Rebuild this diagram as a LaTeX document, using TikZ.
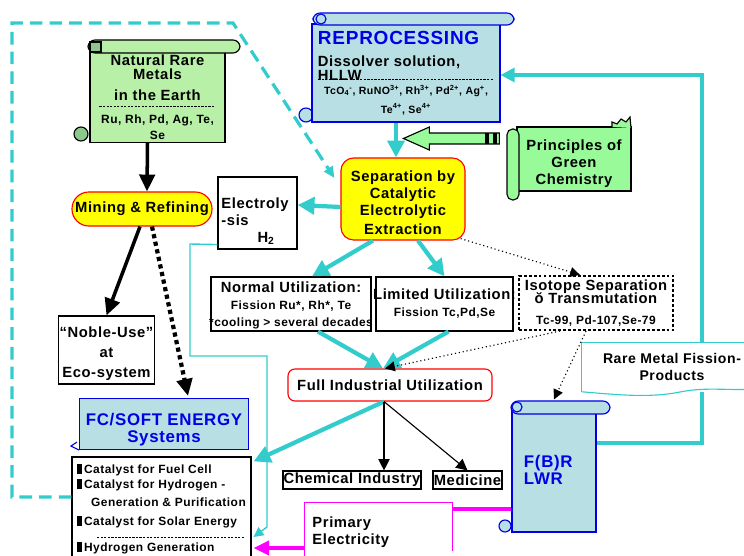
\documentclass[tikz,border=0pt]{standalone}
\usepackage{fontspec}
\setmainfont{Liberation Sans}[LetterSpace=4]
\usetikzlibrary{arrows.meta,positioning,calc,backgrounds}
\definecolor{LeafGreen}{RGB}{184,240,168}
\definecolor{MintGreen}{RGB}{152,250,152}
\definecolor{RollGreen}{RGB}{140,200,140}
\definecolor{PaleCyan}{RGB}{184,223,228}
\definecolor{FlowCyan}{RGB}{51,204,204}
\definecolor{InkBlue}{RGB}{0,0,230}
\definecolor{SignYellow}{RGB}{255,255,0}
\definecolor{AlarmRed}{RGB}{255,0,0}
\definecolor{PowerPink}{RGB}{255,0,255}
\newcommand{\sm}{\fontsize{8.5}{9.5}\selectfont}
\newcommand{\tn}{\fontsize{7.5}{8.5}\selectfont}
\newcommand{\dashrule}[1]{\makebox[#1]{\xleaders\hbox to 2.5pt{\rule[0.3ex]{1.6pt}{0.5pt}\hss}\hfill}}
\newcommand{\bulletbox}{\rule[-0.5pt]{3.5pt}{7pt}\,}
\newcommand{\lift}[1]{\rule{0pt}{#1}}
\tikzset{
  boldtext/.style={font=\bfseries\fontsize{10.5}{12}\selectfont},
  plainbox/.style={draw=black,thick,fill=white,align=center,inner sep=1pt,boldtext},
  alertbox/.style={draw=AlarmRed,thick,fill=SignYellow,rounded corners=9pt,
    align=center,inner sep=1pt,boldtext},
  scrollbody/.style={draw,thick,align=center,inner sep=2pt,boldtext},
  flow/.style={-{Triangle[length=12pt,width=12pt]},line width=3pt,FlowCyan},
  thinflow/.style={-{Triangle[length=7pt,width=7pt]},line width=1pt,FlowCyan},
  blackflow/.style={-{Triangle[length=12pt,width=11pt]},line width=2.5pt},
  dotflow/.style={-{Triangle[length=7pt,width=7pt]},dotted,thick},
  squaredots/.style={-{Triangle[length=12pt,width=11pt]},line width=3pt,
    dash pattern=on 3pt off 2.5pt},
  loopdash/.style={-{Triangle[length=8pt,width=7pt]},line width=2.3pt,FlowCyan,
    dash pattern=on 9pt off 5pt}
}

\begin{document}
\begin{tikzpicture}[x=0.025cm,y=-0.025cm]
\useasboundingbox (0,0) rectangle (744,556);

% scroll curls behind the bodies
\draw[thick,fill=RollGreen] (81,134) circle (7);
\draw[thick,draw=InkBlue,fill=PaleCyan] (306,115) circle (7);
\draw[thick,draw=InkBlue,fill=PaleCyan] (505,526) circle (6);

% nodes
\node[scrollbody,fill=LeafGreen,minimum width=3.375cm,minimum height=2.2cm] (earth) at (157.5,97)
  {Natural Rare\\[-2pt]Metals\\[2.9pt]in the Earth\\[-5.6pt]\dashrule{2.9cm}\\[-2.1pt]{\sm Ru, Rh, Pd, Ag, Te,}\\[-0.7pt]{\sm Se}};
\node[alertbox,rounded corners=12pt,minimum width=3.5cm,minimum height=0.85cm] (mining) at (142,209)
  {Mining \& Refining};
\node[plainbox,align=left,minimum width=1.975cm,minimum height=1.8cm,text width=1.8cm] (electro) at (257.5,213)
  {\lift{19pt}Electroly\\-sis\\\hspace*{0.9cm}H\textsubscript{2}};
\node[scrollbody,draw=InkBlue,fill=PaleCyan,minimum width=4.7cm,minimum height=2.45cm,align=left] (reproc) at (406,73)
  {{\color{InkBlue}\fontsize{13.5}{15}\selectfont REPROCESSING}\\[3.5pt]
   Dissolver solution,\\[-2pt]HLLW\\[-10.6pt]\dashrule{4.4cm}\\[-3.5pt]
   \makebox[4.4cm]{\tn TcO\textsubscript{4}\textsuperscript{-}, RuNO\textsuperscript{3+}, Rh\textsuperscript{3+}, Pd\textsuperscript{2+}, Ag\textsuperscript{+},}\\[1.4pt]
   \makebox[4.4cm]{\tn Te\textsuperscript{4+}, Se\textsuperscript{4+}}};
\node[alertbox,minimum width=3.1cm,minimum height=2.05cm] (sep) at (403,199)
  {\lift{13pt}Separation by\\Catalytic\\Electrolytic\\[2pt]Extraction};
\node[scrollbody,fill=MintGreen,minimum width=2.85cm,minimum height=1.6cm] (green) at (574,159)
  {\lift{14pt}Principles of\\Green\\Chemistry};
\node[plainbox,minimum width=4cm,minimum height=1.35cm] (normal) at (291,304)
  {\lift{10pt}\makebox[3.8cm]{Normal Utilization:}\\{\sm Fission Ru*, Rh*, Te}\\\makebox[3.8cm]{\sm *cooling > several decades}};
\node[plainbox,minimum width=3.425cm,minimum height=1.35cm] (limited) at (444.5,304)
  {\makebox[3.2cm]{Limited Utilization:}\\{\sm Fission Tc,Pd,Se}};
\node[plainbox,line width=1.5pt,dash pattern=on 2pt off 1.5pt,minimum width=3.85cm,minimum height=1.35cm] (isotope) at (596,303)
  {\makebox[3.6cm]{Isotope Separation}\\[-3pt]ŏ Transmutation\\[3pt]{\sm Tc-99, Pd-107,Se-79}};
\node[draw=AlarmRed,thick,rounded corners=5pt,fill=white,minimum width=5.1cm,minimum height=0.8cm,boldtext] (full) at (390,385)
  {Full Industrial Utilization};
\node[fill=white,minimum width=4.5cm,minimum height=1.225cm,align=center,
  font=\bfseries\fontsize{10}{12}\selectfont] (rare) at (672,367)
  {Rare Metal Fission-\\Products};
\node[scrollbody,draw=InkBlue,fill=PaleCyan,minimum width=2.1cm,minimum height=3.1cm,
  text width=1.5cm,align=left] (fbr) at (554,470)
  {\color{InkBlue}\fontsize{12}{14}\selectfont F(B)R\\\color{InkBlue}\fontsize{12}{14}\selectfont LWR};
\node[plainbox,inner sep=0pt,minimum width=3.45cm,minimum height=0.45cm] (chem) at (352,480) {\makebox[3.3cm]{Chemical Industry}};
\node[plainbox,inner sep=0pt,minimum width=1.725cm,minimum height=0.45cm] (med) at (467.5,480) {\makebox[1.6cm]{Medicine}};
\node[scrollbody,draw=InkBlue,fill=PaleCyan,minimum width=4.225cm,minimum height=1.275cm] (fc) at (164,424)
  {\lift{17pt}\color{InkBlue}\fontsize{12}{13}\selectfont FC/SOFT ENERGY\\\color{InkBlue}\fontsize{12}{13}\selectfont Systems};
\node[draw,thick,fill=white,minimum width=4.475cm,minimum height=2.6cm,align=left,
  inner sep=1pt,font=\bfseries\fontsize{8.5}{10}\selectfont] (catal) at (161.5,509)
  {\bulletbox Catalyst for Fuel Cell\\[0.6pt]\bulletbox Catalyst for Hydrogen -\\[2.7pt]
   \hspace*{0.35cm}Generation \& Purification\\[3.4pt]\bulletbox Catalyst for Solar Energy\\[0.6pt]
   \hspace*{0.5cm}\dashrule{3.7cm}\\[-2.2pt]\bulletbox Hydrogen Generation};
\node[plainbox,minimum width=2.325cm,minimum height=1.7cm] (noble) at (106.5,350)
  {\lift{13pt}“Noble-Use”\\[2pt]at\\[2pt]Eco-system};
\node[fill=white,minimum width=3.675cm,minimum height=1.45cm,text width=3.3cm,align=left,boldtext] (primary) at (378.5,532)
  {Primary\\Electricity};

% big feedback line, behind the fission-products label
\coordinate (loopcorner) at (702,75);
\begin{scope}[on background layer]
\draw[line width=2.2pt,FlowCyan,-{Triangle[length=10pt,width=10pt]}]
  ($(fbr.east)+(0,-27)$) -| (loopcorner) -- (loopcorner -| reproc.east);
\end{scope}

% scroll bars and outlines
\draw[thick,fill=LeafGreen,rounded corners=5pt] (88,40) rectangle (240,53);
\draw[thick,fill=RollGreen] (90,42) rectangle (101,52);
\draw[thick,draw=InkBlue,fill=PaleCyan,rounded corners=5pt] (313,13) rectangle (514,25);
\draw[thick,draw=InkBlue,fill=PaleCyan] (321,19) circle (5);
\draw[thick,fill=MintGreen,rounded corners=4pt] (507,129) rectangle (519,200);
\draw[thick,fill=MintGreen] (612,127) -- (612,122) -- (617,124) -- (621,119) -- (626,122) -- (630,117) -- (631,128);
\draw[thick,draw=InkBlue,fill=PaleCyan,rounded corners=5pt] (511,401) rectangle (610,414);
\draw[thick,draw=InkBlue,fill=PaleCyan] (517,407) circle (5);
\draw[thick,InkBlue] (fc.south west) -- ++(-8,-4) -- ++(6,-4);
\draw[thick,FlowCyan] (rare.south west) -- (rare.north west) -- (rare.north east);
\draw[thick,FlowCyan] (rare.south west) .. controls (620,395) and (650,398) .. (680,392)
  .. controls (710,386) and (730,392) .. (770,388);
\draw[thick,PowerPink] (primary.south west) -- (primary.north west) -- (primary.north east) -- ($(primary.south east)+(0,-10)$);

% big hollow arrow from the principles
\coordinate (gtail) at ($(green.west)+(-17,-21)$);
\draw[thick,fill=MintGreen] (gtail) -- ++(0,-5) -- ++(-70,0) -- ++(0,-6) -- ++(-26,11.5)
  -- ++(26,11.5) -- ++(0,-6) -- ++(70,0) -- cycle;
\fill ($(gtail)+(-14,-5)$) rectangle ++(4,11);
\fill ($(gtail)+(-6,-5)$) rectangle ++(4,11);

% connectors
\draw[loopdash] ($(catal.west)+(0,-12)$) -- (12,497) -- (12,23) -- (233,23) -- ($(sep.west)+(-6,-21)$);
\draw[blackflow] ($(earth.south)+(-10,0)$) -- ($(mining.north)+(5,0)$);
\draw[blackflow] ($(mining.south)+(-2,0)$) -- (noble.north);
\draw[squaredots] ($(mining.south)+(10,0)$) -- ($(fc.north)+(24,-2)$);
\draw[flow] ($(reproc.south)+(-10,0)$) -- ($(sep.north)+(-7,0)$);
\draw[flow] ($(sep.west)+(0,8)$) -- ($(electro.east)+(0,-8)$);
\draw[flow] ($(sep.south)+(-30,0)$) -- ($(normal.north)+(21,0)$);
\draw[flow] ($(sep.south)+(15,0)$) -- (limited.north);
\draw[flow] ($(normal.south)+(27,0)$) -- ($(full.north)+(-7,0)$);
\draw[flow] ($(limited.south)+(4,0)$) -- ($(full.north)+(-7,0)$);
\draw[dotflow] ($(sep.south east)+(-5,-2)$) -- ($(isotope.north)+(-16,0)$);
\draw[dotflow] ($(isotope.south)+(-36,0)$) -- ($(full.north)+(-5,0)$);
\draw[dotflow] ($(isotope.south)+(-10,0)$) -- ($(fbr.north)+(0,-8)$);
\draw[flow] ($(full.south)+(-6,0)$) -- ($(catal.north east)+(2,5)$);
\draw[-{Triangle[length=8pt,width=8pt]},thick] ($(full.south)+(-6,0)$) -- ($(chem.north)+(32,0)$);
\draw[-{Triangle[length=8pt,width=8pt]},thick] ($(full.south)+(-6,0)$) -- (med.north);
\draw[thinflow] ($(electro.south west)+(0,-5)$) -- (190,244) -- (190,356) -- (267,356) -- (267,527)
  -- ($(catal.east)+(2,28)$);
\coordinate (tapline) at ($(fbr.west)+(0,39)$);
\draw[PowerPink,line width=2.5pt] (tapline) -- (tapline -| primary.east);
\draw[PowerPink,line width=3pt,-{Triangle[length=11pt,width=10pt]}] ($(primary.west)+(0,16)$)
  -- ($(catal.east)+(2,39)$);
\end{tikzpicture}
\end{document}
